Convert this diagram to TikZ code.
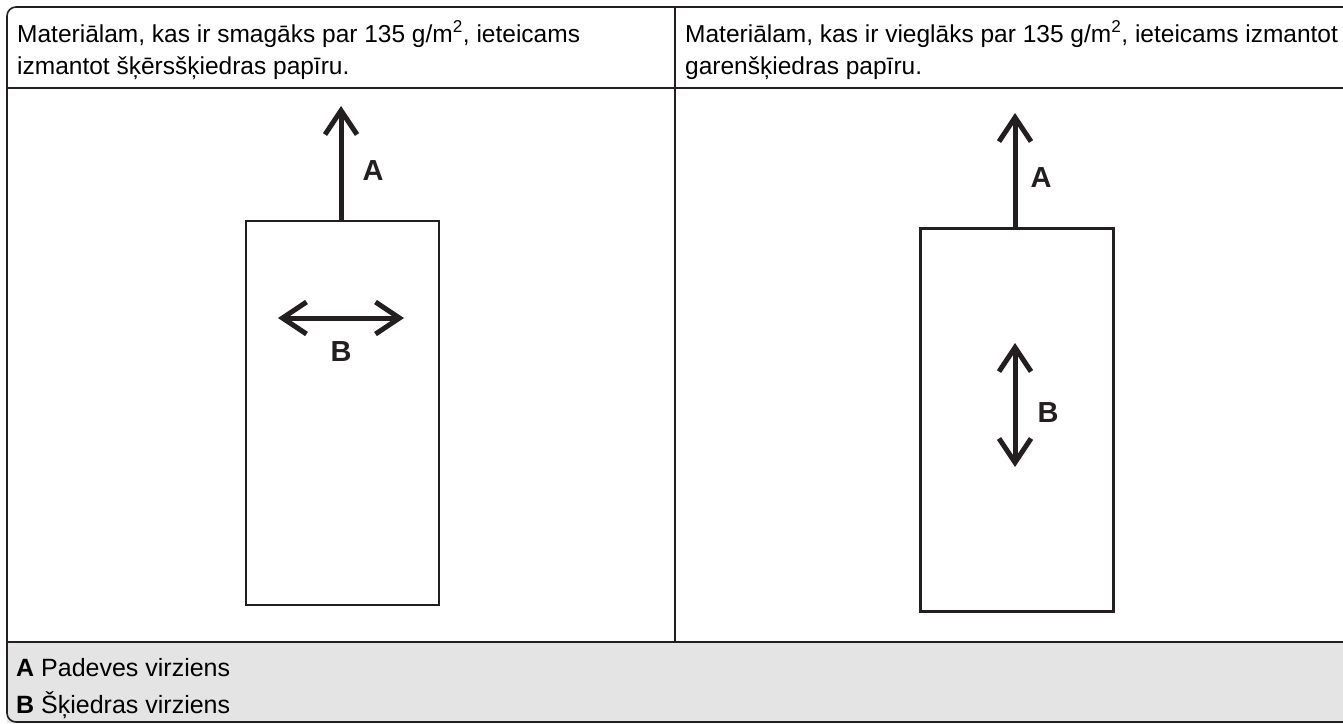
\documentclass[tikz,border=0pt]{standalone}
\usepackage{fontspec}
\setmainfont{Liberation Sans}
\usetikzlibrary{arrows.meta}
\definecolor{ink}{HTML}{231F20}
\definecolor{legendbg}{HTML}{E4E4E4}
\tikzset{
  frame/.style={draw=ink, line width=1.6pt},
  paper/.style={draw=ink, line width=2.6pt, fill=white, inner sep=0pt, minimum width=193pt},
  barb/.tip={Straight Barb[length=24pt,width=32pt,line width=5pt]},
  dirarrow/.style={draw=ink, line width=5pt, -barb},
  dirboth/.style={draw=ink, line width=5pt, barb-barb},
  hdr/.style={anchor=base west, inner sep=0pt, font=\fontsize{24.5}{28}\selectfont, text=black},
  lbl/.style={inner sep=0pt, font=\fontsize{29}{33}\selectfont\bfseries, text=ink},
  leg/.style={anchor=base west, inner sep=0pt, font=\fontsize{25}{28}\selectfont, text=black}
}
\begin{document}
\begin{tikzpicture}[x=1pt,y=-1pt]
\useasboundingbox (0,0) rectangle (1343,723);
% legend background
\fill[legendbg] (7,642) -- (1343,642) -- (1343,723) -- (7,723) -- cycle;
% outer frame (open on the right)
\draw[frame, rounded corners=9pt] (1343,7) -- (7,7) -- (7,722) -- (1343,722);
% grid lines
\draw[frame] (7,88) -- (1343,88);
\draw[frame] (7,642) -- (1343,642);
\draw[frame] (675,7) -- (675,642);
% header texts
\node[hdr] (h1a) at (17,42) {Materiālam, kas ir smagāks par 135 g/m\textsuperscript{2}, ieteicams};
\node[hdr] (h1b) at (17,74) {izmantot šķērsšķiedras papīru.};
\node[hdr] (h2a) at (685,42) {Materiālam, kas ir vieglāks par 135 g/m\textsuperscript{2}, ieteicams izmantot};
\node[hdr] (h2b) at (685,74) {garenšķiedras papīru.};
% left sheet
\node[paper, minimum height=384pt, anchor=north west] (p1) at (244.5,219.5) {};
\coordinate (a1) at (341,106);
\draw[dirarrow] (p1.north -| a1) -- (a1);
\node[lbl] (la1) at (373,171) {A};
\coordinate (b1l) at (278,318);
\coordinate (b1r) at (404,318);
\draw[dirboth] (b1l) -- (b1r);
\node[lbl] (lb1) at (341,352) {B};
% right sheet
\node[paper, minimum height=383pt, anchor=north west] (p2) at (919,227) {};
\coordinate (a2) at (1015,113);
\draw[dirarrow] (p2.north -| a2) -- (a2);
\node[lbl] (la2) at (1041,178) {A};
\coordinate (b2t) at (1015,343);
\coordinate (b2b) at (1015,467);
\draw[dirboth] (b2t) -- (b2b);
\node[lbl] (lb2) at (1048,413) {B};
% legend
\node[leg] (l1) at (16,676) {\textbf{A} Padeves virziens};
\node[leg] (l2) at (16,713) {\textbf{B} Šķiedras virziens};
\end{tikzpicture}
\end{document}
